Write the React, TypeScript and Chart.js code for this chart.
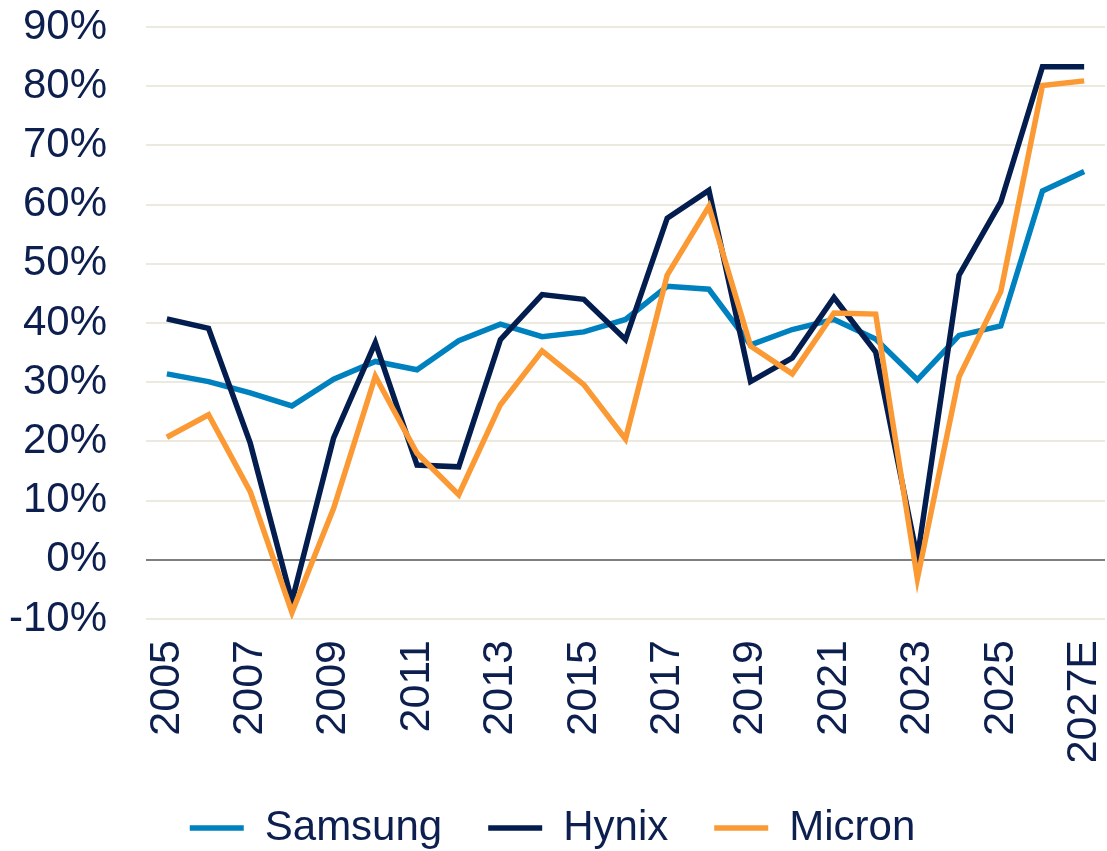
import React, { useEffect, useRef } from "react";
import { Chart, registerables } from "chart.js";

Chart.register(...registerables);

const years = [
  "2005", "2006", "2007", "2008", "2009", "2010", "2011", "2012", "2013", "2014", "2015", "2016",
  "2017", "2018", "2019", "2020", "2021", "2022", "2023", "2024", "2025", "2026", "2027E",
];

const samsung = [31.4, 30.1, 28.2, 26.0, 30.5, 33.5, 32.1, 37.0, 39.8, 37.7, 38.5, 40.6, 46.2, 45.7, 36.3, 38.9, 40.6, 37.3, 30.4, 37.9, 39.5, 62.3, 65.6];
const hynix = [40.7, 39.1, 19.7, -7.0, 20.6, 36.7, 16.0, 15.7, 37.2, 44.8, 44.0, 37.2, 57.7, 62.4, 30.1, 34.1, 44.3, 35.1, 0.3, 48.1, 60.4, 83.3, 83.3];
const micron = [20.7, 24.5, 11.5, -8.9, 8.7, 31.0, 18.0, 11.0, 26.2, 35.3, 29.6, 20.4, 48.1, 59.7, 36.1, 31.4, 41.7, 41.5, -3.2, 30.9, 45.3, 80.1, 80.9];

const yMin = -10;
const yMax = 90;
const yStep = 10;

const TEXT = "#0c1f4f";
const FONT = "'Liberation Sans', Arial, sans-serif";
const FS = 42;

export default function App() {
  const ref = useRef<HTMLCanvasElement | null>(null);

  useEffect(() => {
    if (!ref.current) return;
    const chart = new Chart(ref.current, {
      type: "line",
      data: {
        labels: years,
        datasets: [
          { label: "Samsung", data: samsung, borderColor: "#0081bf", backgroundColor: "#0081bf", borderWidth: 5.5, order: 3 },
          { label: "Hynix", data: hynix, borderColor: "#031d4f", backgroundColor: "#031d4f", borderWidth: 5.5, order: 2 },
          { label: "Micron", data: micron, borderColor: "#fb9a34", backgroundColor: "#fb9a34", borderWidth: 5.5, order: 1 },
        ],
      },
      options: {
        animation: false,
        responsive: true,
        maintainAspectRatio: false,
        elements: {
          line: { tension: 0, borderJoinStyle: "miter" },
          point: { radius: 0, hoverRadius: 0 },
        },
        layout: { padding: { top: 27, right: 2, left: 0, bottom: 0 } },
        plugins: {
          tooltip: { enabled: false },
          legend: {
            position: "bottom",
            labels: {
              usePointStyle: true,
              pointStyle: "line",
              pointStyleWidth: 54,
              color: TEXT,
              font: { family: FONT, size: FS },
              padding: 46,
              sort: (a: any, b: any) => a.datasetIndex - b.datasetIndex,
            },
          },
        },
        scales: {
          x: {
            offset: true,
            grid: { display: false, drawTicks: false },
            border: { display: false },
            afterFit: (s: any) => {
              s.paddingLeft = 0;
              s.paddingRight = 0;
              s.height = 142;
            },
            ticks: {
              autoSkip: false,
              maxRotation: 90,
              minRotation: 90,
              padding: 21,
              color: TEXT,
              font: { family: FONT, size: 43 },
              callback: (_v: any, i: number) => (i % 2 === 0 ? years[i] : ""),
            },
          },
          y: {
            min: yMin,
            max: yMax,
            afterFit: (s: any) => {
              s.width = 146;
              s.paddingTop = 0;
              s.paddingBottom = 0;
            },
            grid: {
              drawTicks: false,
              lineWidth: 2,
              color: (ctx: any) => (ctx.tick && ctx.tick.value === 0 ? "#7f7f7f" : "#ece9df"),
            },
            border: { display: false },
            ticks: {
              stepSize: yStep,
              padding: 39,
              color: TEXT,
              font: { family: FONT, size: FS },
              callback: (v: any) => `${v}%`,
            },
          },
        },
      },
    });
    return () => chart.destroy();
  }, []);

  return (
    <div style={{ position: "fixed", left: 0, top: 0, width: 1107, height: 859 }}>
      <canvas ref={ref} />
    </div>
  );
}
